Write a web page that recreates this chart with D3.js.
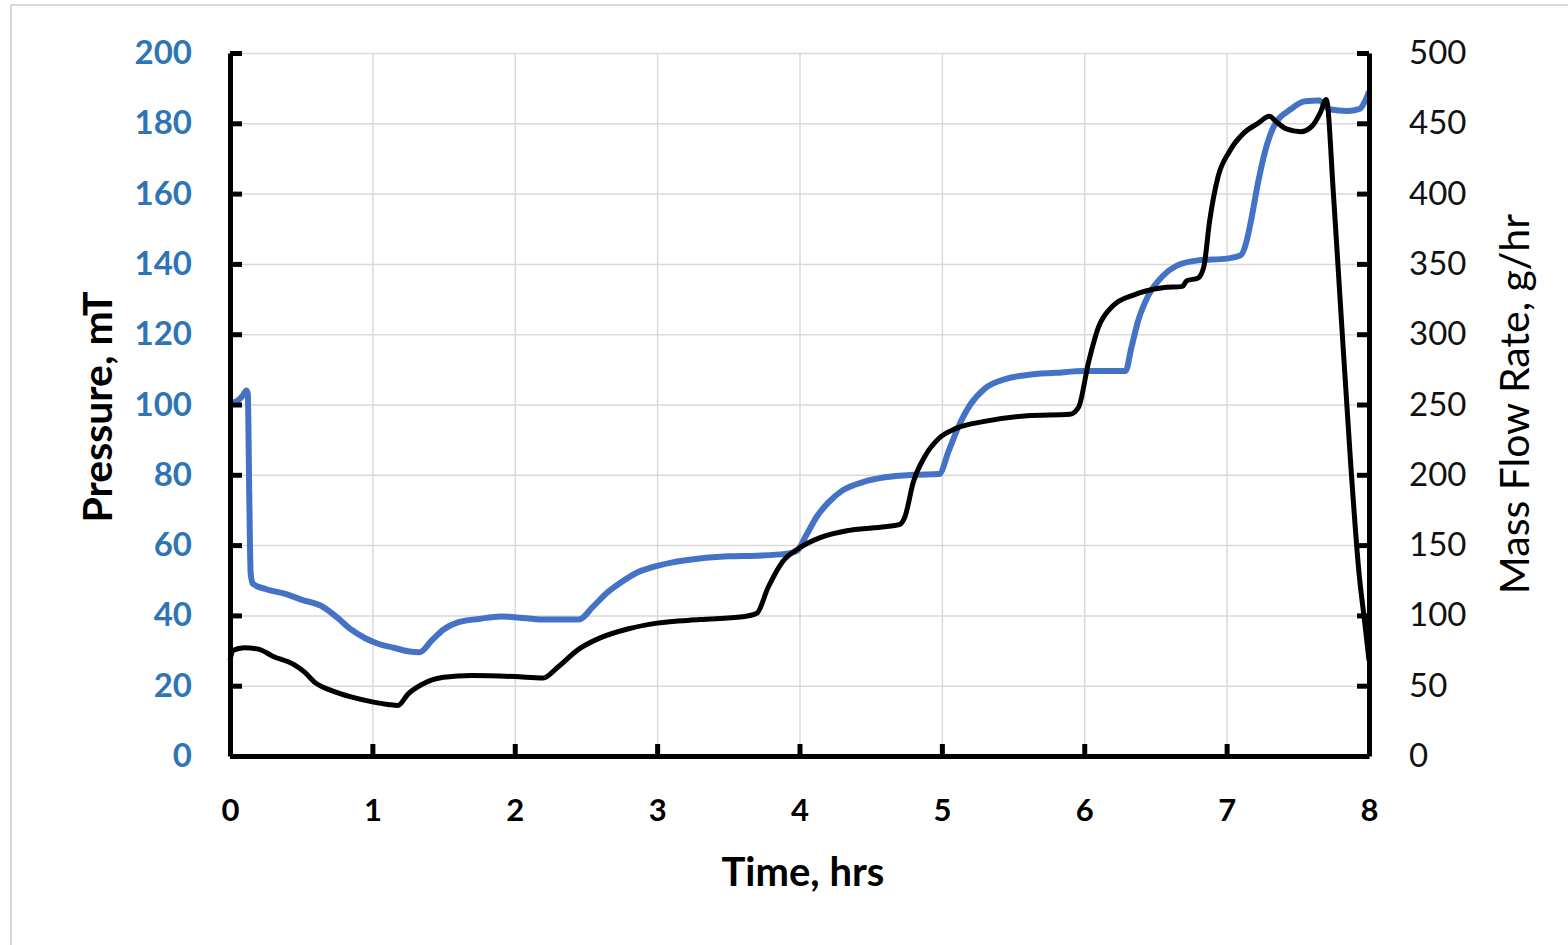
<!DOCTYPE html>
<html>
<head>
<meta charset="utf-8">
<script src="https://cdn.jsdelivr.net/npm/d3@7"></script>
<style>
  body { margin: 0; background: #fff; }
  svg { font-family: Lato, "Open Sans", sans-serif; }
  .grid line { stroke: #d9d9d9; stroke-width: 1.5; }
  .grid .domain { display: none; }
  .axis .domain { stroke: #000; stroke-width: 5; }
  .axis .tick line { stroke: #000; stroke-width: 5; }
</style>
</head>
<body>
<svg width="1568" height="945"></svg>
<script>
// pressure series (left axis, mT)
var pTime = [0,0.05,0.09,0.115,0.125,0.135,0.145,0.16,0.25,0.4,0.5,0.65,0.75,0.85,0.95,1.05,1.15,1.25,1.33,1.42,1.5,1.6,1.75,1.9,2.0,2.2,2.45,2.55,2.65,2.75,2.85,2.95,3.1,3.3,3.5,3.7,3.9,3.98,4.05,4.12,4.2,4.3,4.45,4.6,4.8,4.98,5.05,5.12,5.2,5.3,5.45,5.6,5.8,6.0,6.29,6.33,6.38,6.45,6.55,6.65,6.8,7.0,7.1,7.13,7.17,7.22,7.27,7.33,7.45,7.55,7.65,7.72,7.85,7.93,7.98,8.0];
var pressure = [100.3,101,102.5,104,103,75,52,49,47.5,46,44.5,42.5,39.5,36,33.5,31.8,30.8,29.8,29.5,33,36,38,39,39.7,39.5,38.8,38.8,42.5,46.5,49.5,52,53.5,55,56.2,56.8,57,57.5,58.3,63,68,72,75.5,78,79.3,80,80.2,87,94,100,104.5,107.3,108.4,109,109.5,109.5,116,124,131,136.5,139.5,141,141.5,142.5,145,152,163,172,179,184,186.3,186.5,184,183.5,184,187,189];

// mass flow series (right axis, g/hr)
var mTime = [0,0.02,0.1,0.2,0.3,0.45,0.52,0.6,0.7,0.85,1.0,1.12,1.18,1.25,1.35,1.5,1.7,2.0,2.2,2.3,2.45,2.6,2.8,3.0,3.3,3.6,3.7,3.78,3.88,4.0,4.15,4.35,4.6,4.7,4.74,4.8,4.88,4.98,5.1,5.3,5.6,5.9,5.96,6.03,6.1,6.2,6.35,6.55,6.69,6.72,6.8,6.84,6.88,6.94,7.02,7.12,7.22,7.3,7.35,7.42,7.52,7.6,7.66,7.7,7.75,7.8,7.87,7.93,7.97,8.0];
var massFlow = [68,75,77,76,71,65,60,52,47,42,38.5,36.5,36,44,51,56,57.2,56.5,55.5,63,76,84,90.5,94.5,97,99,101.5,120,138,148,155.5,160.5,163,164.5,170,195,213,226,233,238,242,243,248,280,305,320,328,333,334,338,340,348,380,412,430,443,450,455,451,446,444,448,458,467,400,320,210,130,95,68];

var xTicks = [0,1,2,3,4,5,6,7,8];
var pTicks = [0,20,40,60,80,100,120,140,160,180,200];
var mTicks = [0,50,100,150,200,250,300,350,400,450,500];

var margin = {top: 53, left: 230, right: 199, bottom: 189};
var width = 1568 - margin.left - margin.right;
var height = 945 - margin.top - margin.bottom;

var svg = d3.select("svg");

// light frame round the picture
svg.append("rect")
  .attr("x", 11).attr("y", 5)
  .attr("width", 1600).attr("height", 1000)
  .attr("fill", "none")
  .attr("stroke", "#d9d9d9")
  .attr("stroke-width", 2);

var g = svg.append("g")
  .attr("transform", "translate(" + margin.left + "," + margin.top + ")");

var x = d3.scaleLinear().domain([0, 8]).range([0, width]);
var yP = d3.scaleLinear().domain([0, 200]).range([height, 0]);
var yM = d3.scaleLinear().domain([0, 500]).range([height, 0]);

// grid
g.append("g").attr("class", "grid")
  .call(d3.axisLeft(yP).tickValues(pTicks).tickSize(-width).tickFormat(""));
g.append("g").attr("class", "grid")
  .attr("transform", "translate(0," + height + ")")
  .call(d3.axisBottom(x).tickValues(xTicks).tickSize(-height).tickFormat(""));

// lines
var pData = pTime.map(function(t, i) { return {t: t, v: pressure[i]}; });
var mData = mTime.map(function(t, i) { return {t: t, v: massFlow[i]}; });

g.append("path")
  .datum(pData)
  .attr("fill", "none")
  .attr("stroke", "#4472c4")
  .attr("stroke-width", 6)
  .attr("stroke-linejoin", "round")
  .attr("d", d3.line().x(function(d) { return x(d.t); }).y(function(d) { return yP(d.v); }).curve(d3.curveMonotoneX));

g.append("path")
  .datum(mData)
  .attr("fill", "none")
  .attr("stroke", "#000")
  .attr("stroke-width", 5)
  .attr("stroke-linejoin", "round")
  .attr("d", d3.line().x(function(d) { return x(d.t); }).y(function(d) { return yM(d.v); }).curve(d3.curveMonotoneX));

// axes
var left = g.append("g").attr("class", "axis")
  .call(d3.axisLeft(yP).tickValues(pTicks).tickSizeInner(-12).tickSizeOuter(0).tickPadding(38));
left.selectAll("text")
  .attr("fill", "#2e75b6")
  .style("font-family", "Lato, sans-serif")
  .style("font-size", "33px")
  .style("font-weight", "bold");

var right = g.append("g").attr("class", "axis")
  .attr("transform", "translate(" + width + ",0)")
  .call(d3.axisRight(yM).tickValues(mTicks).tickSizeInner(-12).tickSizeOuter(0).tickPadding(40));
right.selectAll("text")
  .attr("fill", "#111")
  .style("font-family", "Lato, sans-serif")
  .style("font-size", "33px");

var bottom = g.append("g").attr("class", "axis")
  .attr("transform", "translate(0," + height + ")")
  .call(d3.axisBottom(x).tickValues(xTicks).tickSizeInner(-12).tickSizeOuter(0).tickPadding(43));
bottom.selectAll("text")
  .attr("fill", "#000")
  .style("font-family", "Lato, sans-serif")
  .style("font-size", "31px")
  .style("font-weight", "bold");

// axis titles
svg.append("text")
  .attr("transform", "translate(112,407) rotate(-90)")
  .attr("text-anchor", "middle")
  .style("font-size", "41px")
  .style("font-weight", "bold")
  .text("Pressure, mT");

svg.append("text")
  .attr("transform", "translate(1529,404) rotate(-90)")
  .attr("text-anchor", "middle")
  .style("font-size", "41px")
  .text("Mass Flow Rate, g/hr");

svg.append("text")
  .attr("x", 803).attr("y", 886)
  .attr("text-anchor", "middle")
  .style("font-size", "40px")
  .style("font-weight", "bold")
  .text("Time, hrs");
</script>
</body>
</html>
